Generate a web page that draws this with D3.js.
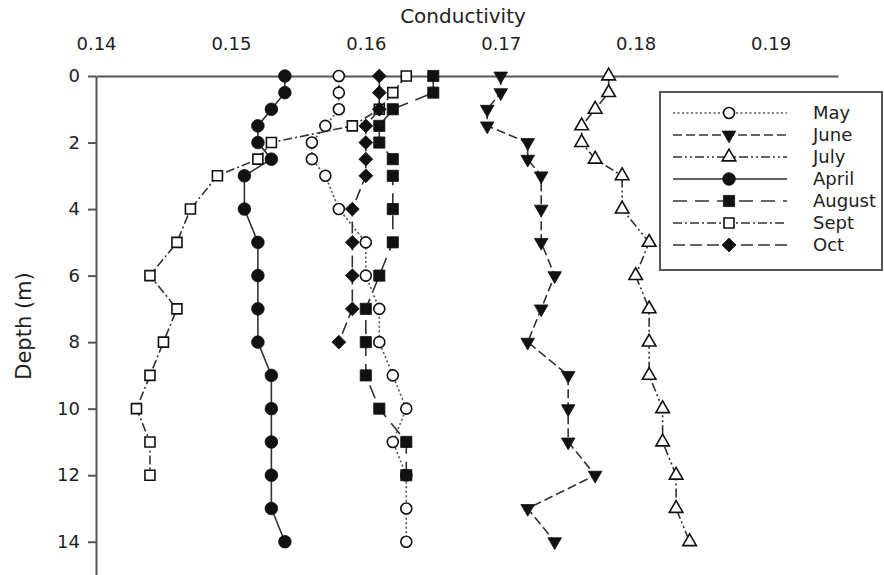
<!DOCTYPE html>
<html>
<head>
<meta charset="utf-8">
<script src="https://cdn.jsdelivr.net/npm/d3@7"></script>
<style>
  body { margin: 0; background: #fff; }
  text { font-family: "DejaVu Sans", sans-serif; fill: #222; }
</style>
</head>
<body>
<svg id="chart" width="884" height="575"></svg>
<script>
// depth of each sample (m)
const depths = [0, 0.5, 1, 1.5, 2, 2.5, 3, 4, 5, 6, 7, 8, 9, 10, 11, 12, 13, 14];

// conductivity per month, one value per depth (shorter series stop early)
const may = [0.158, 0.158, 0.158, 0.157, 0.156, 0.156, 0.157, 0.158, 0.160, 0.160, 0.161, 0.161, 0.162, 0.163, 0.162, 0.163, 0.163, 0.163];
const june = [0.170, 0.170, 0.169, 0.169, 0.172, 0.172, 0.173, 0.173, 0.173, 0.174, 0.173, 0.172, 0.175, 0.175, 0.175, 0.177, 0.172, 0.174];
const july = [0.178, 0.178, 0.177, 0.176, 0.176, 0.177, 0.179, 0.179, 0.181, 0.180, 0.181, 0.181, 0.181, 0.182, 0.182, 0.183, 0.183, 0.184];
const april = [0.154, 0.154, 0.153, 0.152, 0.152, 0.153, 0.151, 0.151, 0.152, 0.152, 0.152, 0.152, 0.153, 0.153, 0.153, 0.153, 0.153, 0.154];
const august = [0.165, 0.165, 0.162, 0.161, 0.161, 0.162, 0.162, 0.162, 0.162, 0.161, 0.160, 0.160, 0.160, 0.161, 0.163, 0.163];
const sept = [0.163, 0.162, 0.161, 0.159, 0.153, 0.152, 0.149, 0.147, 0.146, 0.144, 0.146, 0.145, 0.144, 0.143, 0.144, 0.144];
const oct = [0.161, 0.161, 0.161, 0.160, 0.160, 0.160, 0.160, 0.159, 0.159, 0.159, 0.159, 0.158];

const months = ["May", "June", "July", "April", "August", "Sept", "Oct"];
const values = [may, june, july, april, august, sept, oct];

const xTicks = [0.14, 0.15, 0.16, 0.17, 0.18, 0.19];
const yTicks = [0, 2, 4, 6, 8, 10, 12, 14];

// line + marker look for each month
const styles = {
  May: { dash: "2,2.5", marker: "circle", filled: false, line: "#555" },
  June: { dash: "9,4", marker: "triDown", filled: true, line: "#333" },
  July: { dash: "9,3,2,3,2,3", marker: "triUp", filled: false, line: "#333" },
  April: { dash: null, marker: "circle", filled: true, line: "#333" },
  August: { dash: "14,8", marker: "square", filled: true, line: "#333" },
  Sept: { dash: "9,3,2,3", marker: "square", filled: false, line: "#333" },
  Oct: { dash: "12,5", marker: "diamond", filled: true, line: "#333" },
};

const svg = d3.select("#chart");

const x = d3.scaleLinear().domain([0.14, 0.195]).range([96, 838]);
const y = d3.scaleLinear().domain([0, 15]).range([76, 575]);

// axes
svg
  .append("g")
  .attr("transform", `translate(0,${y(0)})`)
  .call(
    d3.axisTop(x).tickValues(xTicks).tickFormat(d3.format(".2f"))
      .tickSize(0).tickSizeOuter(0).tickPadding(26)
  )
  .attr("font-size", 18)
  .attr("font-family", null)
  .call((g) => g.select(".domain").attr("stroke", "#555").attr("stroke-width", 2));

svg
  .append("g")
  .attr("transform", `translate(${x(0.14)},0)`)
  .call(d3.axisLeft(y).tickValues(yTicks).tickSize(8).tickSizeOuter(0).tickPadding(8))
  .attr("font-size", 18)
  .attr("font-family", null)
  .call((g) => g.select(".domain").attr("stroke", "#555").attr("stroke-width", 2))
  .call((g) => g.selectAll(".tick line").attr("stroke", "#555").attr("stroke-width", 2));

svg.append("text")
  .attr("x", 463).attr("y", 23)
  .attr("text-anchor", "middle")
  .attr("font-size", 20)
  .text("Conductivity");

svg.append("text")
  .attr("transform", "translate(31,326) rotate(-90)")
  .attr("text-anchor", "middle")
  .attr("font-size", 21)
  .text("Depth (m)");

function drawMarker(g, st, cx, cy) {
  const fill = st.filled ? "#111" : "#fff";
  const sw = st.filled ? 0.8 : 1.6;
  let path;
  if (st.marker === "circle") {
    path = d3.symbol(d3.symbolCircle, st.filled ? 125 : 95)();
  } else if (st.marker === "triDown" || st.marker === "triUp") {
    path = d3.symbol(d3.symbolTriangle, 80)();
  } else if (st.marker === "square") {
    path = d3.symbol(d3.symbolSquare, st.filled ? 125 : 100)();
  } else {
    path = d3.symbol(d3.symbolSquare, 95)();
  }
  let rot = 0;
  if (st.marker === "triDown") rot = 180;
  if (st.marker === "diamond") rot = 45;
  g.append("path")
    .attr("d", path)
    .attr("transform", `translate(${cx},${cy}) rotate(${rot})`)
    .attr("fill", fill)
    .attr("stroke", "#111")
    .attr("stroke-width", sw);
}

const line = d3.line().x((d) => x(d.v)).y((d) => y(d.d));

months.forEach((m, i) => {
  const st = styles[m];
  const pts = values[i].map((v, j) => ({ v, d: depths[j] }));
  const g = svg.append("g");
  g.append("path")
    .datum(pts)
    .attr("d", line)
    .attr("fill", "none")
    .attr("stroke", st.line)
    .attr("stroke-width", 1.6)
    .attr("stroke-dasharray", st.dash);
  pts.forEach((p) => drawMarker(g, st, x(p.v), y(p.d)));
});

// legend
const legend = svg.append("g");
legend.append("rect")
  .attr("x", 660).attr("y", 92)
  .attr("width", 222).attr("height", 178)
  .attr("fill", "#fff")
  .attr("stroke", "#555")
  .attr("stroke-width", 2);

months.forEach((m, i) => {
  const st = styles[m];
  const ly = 113 + i * 22;
  legend.append("line")
    .attr("x1", 673).attr("x2", 787)
    .attr("y1", ly).attr("y2", ly)
    .attr("stroke", st.line)
    .attr("stroke-width", 1.6)
    .attr("stroke-dasharray", st.dash);
  drawMarker(legend, st, 729, ly);
  legend.append("text")
    .attr("x", 813).attr("y", ly)
    .attr("dy", "0.35em")
    .attr("font-size", 18)
    .text(m);
});
</script>
</body>
</html>
